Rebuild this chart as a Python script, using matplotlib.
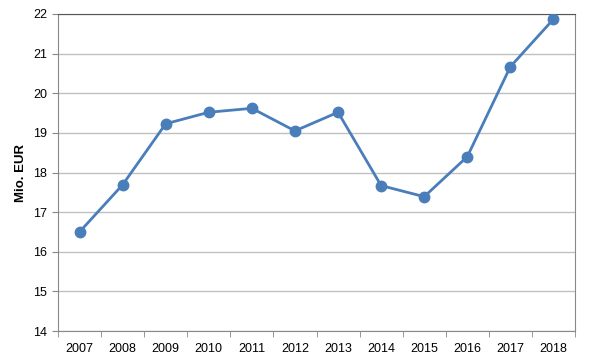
import matplotlib
matplotlib.use("Agg")
import matplotlib.pyplot as plt

plt.rcParams['font.family'] = ['Liberation Sans', 'DejaVu Sans']

years = ['2007', '2008', '2009', '2010', '2011', '2012',
         '2013', '2014', '2015', '2016', '2017', '2018']
values = [16.5, 17.69, 19.23, 19.52, 19.62, 19.05,
          19.52, 17.67, 17.39, 18.40, 20.67, 21.87]

fig = plt.figure(figsize=(5.9, 3.61), dpi=100)
ax = fig.add_axes([58/590, 1 - 331/361, (575-58)/590, (331-14)/361])

x = list(range(len(years)))
ax.plot(x, values, '-o', color='#4a7ebb', linewidth=2, markersize=7.5,
        markerfacecolor='#4a7ebb', markeredgecolor='#4a7ebb', zorder=3)

ax.set_xlim(-0.5, len(years) - 0.5)
ax.set_ylim(14, 22)
ax.set_yticks(range(14, 23))
ax.yaxis.grid(True, color='#c0c0c0', linewidth=1)
ax.set_axisbelow(True)

ax.set_xticks(x)
ax.set_xticklabels(years)
ax.set_xticks([i - 0.5 for i in range(len(years) + 1)], minor=True)
ax.tick_params(axis='x', which='major', length=0, pad=9, labelsize=9)
ax.tick_params(axis='x', which='minor', length=4, color='#888888')
ax.tick_params(axis='y', length=4, color='#888888', labelsize=9, pad=4)

for s in ['left', 'bottom']:
    ax.spines[s].set_color('#888888')
ax.spines['top'].set_color('#555555')
ax.spines['right'].set_color('#888888')

ax.set_ylabel('Mio. EUR', fontsize=9.5, fontweight='bold', labelpad=4)

fig.savefig('out.png', dpi=100)
